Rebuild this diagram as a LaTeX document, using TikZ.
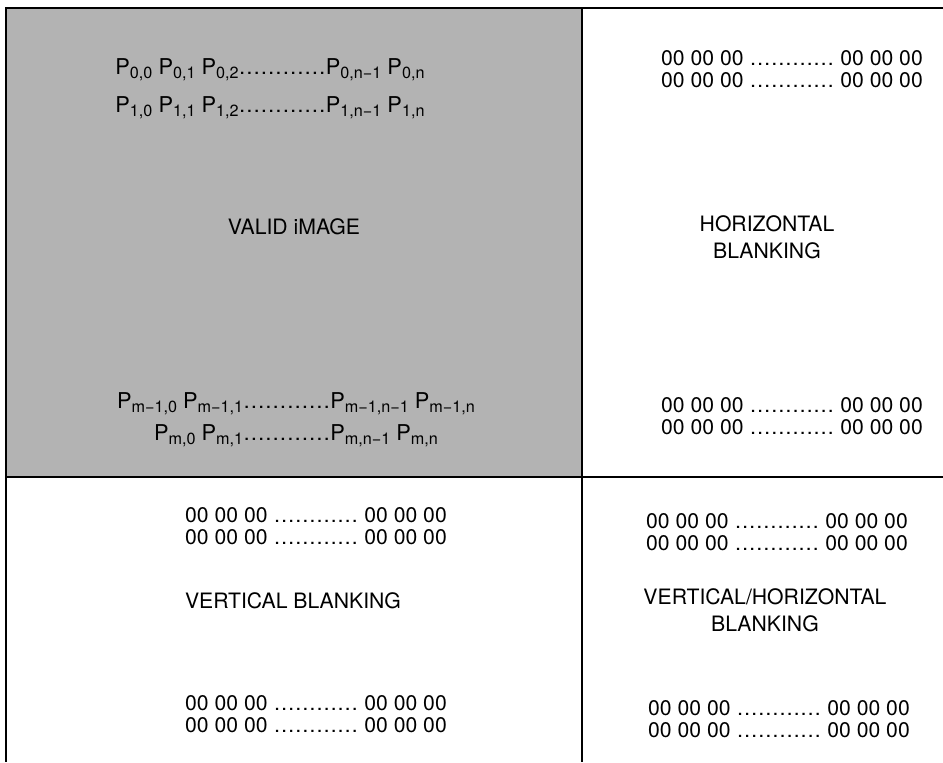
\documentclass[tikz,border=0pt]{standalone}
\usepackage{fontspec}
\setmainfont{TeX Gyre Heros}
\usepackage{tikz}
\usetikzlibrary{positioning}

\definecolor{validgray}{RGB}{179,179,179}
\newcommand{\pix}[1]{P\raisebox{-2.4pt}{\fontsize{8.1}{8}\selectfont #1}}
\newcommand{\zerorow}{00 00 00 ………… 00 00 00}

\tikzset{
  frame/.style={line width=1pt},
  label/.style={inner sep=0pt, font=\fontsize{10.6}{13.5}\selectfont},
  pixrow/.style={inner sep=0pt, font=\fontsize{10.9}{13}\selectfont},
  blank/.style={label, align=center, anchor=north},
  zeros/.style={inner sep=0pt, align=center, anchor=north, font=\fontsize{10.6}{10.8}\selectfont}
}

\begin{document}
\begin{tikzpicture}[x=0.5pt, y=-0.5pt]
\useasboundingbox (0,0) rectangle (943,762);

% corners
\coordinate (TL) at (6,7.5);
\coordinate (TR) at (943,7.5);
\coordinate (BL) at (6,762);
\coordinate (MT) at (582,7.5);
\coordinate (MB) at (582,762);
\coordinate (ML) at (6,477);
\coordinate (MR) at (943,477);
\coordinate (MM) at (582,477);

% valid image area
\fill[validgray] (TL) rectangle (MM);

% grid lines
\draw[frame] (TR) -- (TL) -- (BL);
\draw[frame] (MT) -- (MB);
\draw[frame] (ML) -- (MR);

% pixel rows
\node[pixrow, anchor=base west] (row0) at (115,74) {\pix{0,0} \pix{0,1} \pix{0,2}…………\pix{0,n−1} \pix{0,n}};
\node[pixrow, anchor=base west] (row1) at (115,112) {\pix{1,0} \pix{1,1} \pix{1,2}…………\pix{1,n−1} \pix{1,n}};
\node[label, anchor=base] (valid) at (294,234) {VALID iMAGE};
\node[pixrow, anchor=base] (rowm1) at (296,408) {\pix{m−1,0} \pix{m−1,1}…………\pix{m−1,n−1} \pix{m−1,n}};
\node[pixrow, anchor=base] (rowm) at (296,440) {\pix{m,0} \pix{m,1}…………\pix{m,n−1} \pix{m,n}};

% horizontal blanking
\node[zeros] (hbtop) at (792,50) {\zerorow\\\zerorow};
\node[blank] (hblank) at (767,215) {HORIZONTAL\\BLANKING};
\node[zeros] (hbbot) at (792,397) {\zerorow\\\zerorow};

% vertical blanking
\node[zeros] (vbtop) at (316,507) {\zerorow\\\zerorow};
\node[label, anchor=base] (vblank) at (293,608) {VERTICAL BLANKING};
\node[zeros] (vbbot) at (316,695) {\zerorow\\\zerorow};

% vertical/horizontal blanking
\node[zeros] (vhtop) at (777,513) {\zerorow\\\zerorow};
\node[blank] (vhblank) at (765,588) {VERTICAL/HORIZONTAL\\BLANKING};
\node[zeros] (vhbot) at (779,700) {\zerorow\\\zerorow};

\end{tikzpicture}
\end{document}
